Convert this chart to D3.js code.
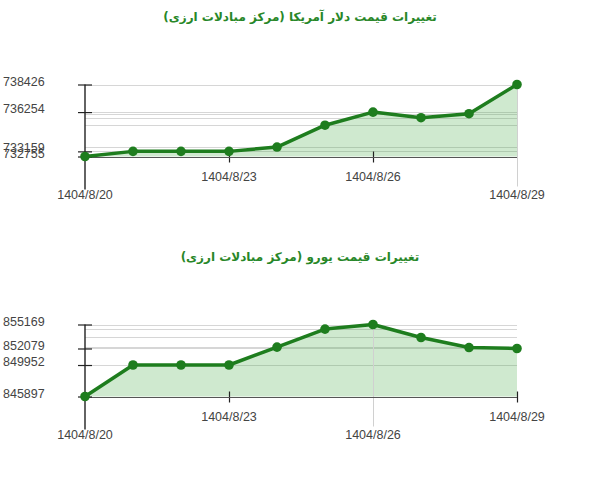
<!DOCTYPE html>
<html>
<head>
<meta charset="utf-8">
<script src="https://cdn.jsdelivr.net/npm/d3@7"></script>
<style>
  html, body { margin: 0; padding: 0; background: #fff; }
  svg { display: block; }
</style>
</head>
<body>
<svg id="chart" width="600" height="480"></svg>
<script>
// ---- data ----
const dates = ["1404/8/20","1404/8/21","1404/8/22","1404/8/23","1404/8/24","1404/8/25","1404/8/26","1404/8/27","1404/8/28","1404/8/29"];
const usdValues = [732755, 733159, 733159, 733159, 733500, 735221, 736254, 735810, 736128, 738426];
const eurValues = [845897, 849952, 849952, 849952, 852250, 854577, 855169, 853495, 852200, 852079];
const usdTicks = [738426, 736254, 733159, 732755];
const eurTicks = [855169, 852079, 849952, 845897];
const xTickLabels = ["1404/8/20","1404/8/23","1404/8/26","1404/8/29"];
const usdTitle = "تغییرات قیمت دلار آمریکا (مرکز مبادلات ارزی)";
const eurTitle = "تغییرات قیمت یورو (مرکز مبادلات ارزی)";

const svg = d3.select("#chart");
const lineColor = "rgb(30,125,30)";
const titleColor = "rgb(40,135,40)";

function drawChart(cfg) {
  const g = svg.append("g");
  const x = d3.scalePoint().domain(dates).range([85, 517]);
  const y = d3.scaleLinear().domain(d3.extent(cfg.values)).range([cfg.bottom, cfg.top]);

  // title
  g.append("text")
    .attr("x", 300).attr("y", cfg.titleY)
    .attr("text-anchor", "middle")
    .attr("direction", "rtl")
    .attr("font-family", "Tahoma, 'DejaVu Sans', sans-serif")
    .attr("font-weight", "bold")
    .attr("font-size", 12)
    .attr("fill", titleColor)
    .text(cfg.title);

  // horizontal gridlines at each data value
  const gridVals = Array.from(new Set(cfg.values));
  g.selectAll(".grid").data(gridVals).enter().append("line")
    .attr("x1", 85).attr("x2", 517)
    .attr("y1", d => Math.round(y(d)) + 0.5).attr("y2", d => Math.round(y(d)) + 0.5)
    .attr("stroke", "#d6d6d6").attr("stroke-width", 1);

  // area
  const area = d3.area()
    .x((d, i) => x(dates[i]))
    .y0(cfg.bottom)
    .y1(d => y(d));
  g.append("path").datum(cfg.values)
    .attr("d", area)
    .attr("fill", "rgba(70,170,70,0.26)");

  // leader lines / ticks for x labels
  xTickLabels.forEach((lab, i) => {
    const xx = Math.round(x(lab)) + 0.5;
    const low = cfg.lowLabels.includes(i);
    if (i === 0) return;
    if (low) {
      g.append("line").attr("x1", xx).attr("x2", xx)
        .attr("y1", cfg.top).attr("y2", cfg.bottom + 30)
        .attr("stroke", "#d0d0d0").attr("stroke-width", 1);
    } else {
      g.append("line").attr("x1", xx).attr("x2", xx)
        .attr("y1", cfg.bottom - 5).attr("y2", cfg.bottom + 6)
        .attr("stroke", "#222").attr("stroke-width", 1.2);
    }
  });

  // x axis line
  g.append("line").attr("x1", 85).attr("x2", 517)
    .attr("y1", Math.round(cfg.bottom) + 0.5).attr("y2", Math.round(cfg.bottom) + 0.5)
    .attr("stroke", "#555").attr("stroke-width", 1);

  // y axis
  const yAxis = d3.axisLeft(y).tickValues(cfg.ticks).tickSize(0).tickFormat(d3.format("d"));
  const ax = g.append("g").attr("transform", "translate(85,0)").call(yAxis);
  ax.select(".domain").remove();
  ax.selectAll(".tick text")
    .attr("x", -82).attr("dy", "0.05em")
    .attr("text-anchor", "start")
    .attr("font-family", "'Liberation Sans', Arial, sans-serif")
    .attr("font-size", 12.5)
    .attr("fill", "#444");
  ax.selectAll(".tick").append("line")
    .attr("x1", -7).attr("x2", 7)
    .attr("stroke", "#222").attr("stroke-width", 1.2);
  g.append("line").attr("x1", 85).attr("x2", 85)
    .attr("y1", cfg.top).attr("y2", cfg.bottom + 33)
    .attr("stroke", "#222").attr("stroke-width", 1.4);

  // x labels
  xTickLabels.forEach((lab, i) => {
    const low = cfg.lowLabels.includes(i);
    g.append("text")
      .attr("x", x(lab)).attr("y", cfg.bottom + (low ? 42.5 : 24.5))
      .attr("text-anchor", "middle")
      .attr("font-family", "'Liberation Sans', Arial, sans-serif")
      .attr("font-size", 12.5)
      .attr("fill", "#444")
      .text(lab);
  });

  // line
  const line = d3.line().x((d, i) => x(dates[i])).y(d => y(d));
  g.append("path").datum(cfg.values)
    .attr("d", line)
    .attr("fill", "none")
    .attr("stroke", lineColor)
    .attr("stroke-width", 3.5)
    .attr("stroke-linejoin", "round");

  // markers
  g.selectAll(".pt").data(cfg.values).enter().append("circle")
    .attr("cx", (d, i) => x(dates[i]))
    .attr("cy", d => y(d))
    .attr("r", 4.8)
    .attr("fill", lineColor);
}

drawChart({ values: usdValues, ticks: usdTicks, title: usdTitle, titleY: 21, top: 84.5, bottom: 156.5, lowLabels: [0, 3] });
drawChart({ values: eurValues, ticks: eurTicks, title: eurTitle, titleY: 261, top: 324.5, bottom: 396.5, lowLabels: [0, 2] });
</script>
</body>
</html>
